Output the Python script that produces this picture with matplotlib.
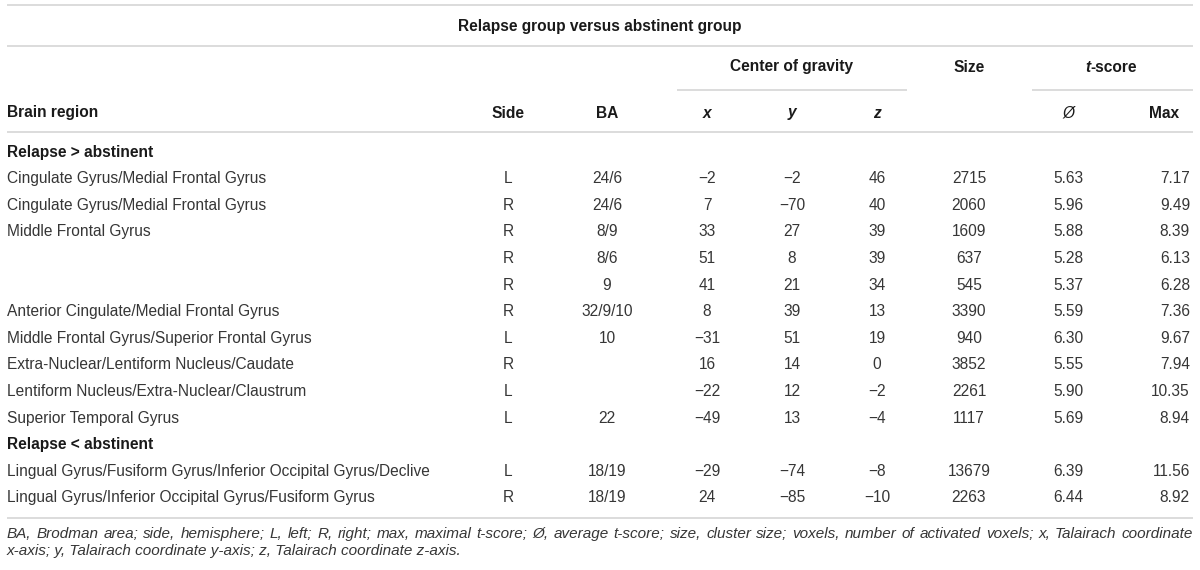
import matplotlib.pyplot as plt

# table content
title = "Relapse group versus abstinent group"
group_labels = ["Relapse > abstinent", "Relapse < abstinent"]
group_sizes = [10, 2]
regions = ["Cingulate Gyrus/Medial Frontal Gyrus",
           "Cingulate Gyrus/Medial Frontal Gyrus",
           "Middle Frontal Gyrus", "", "",
           "Anterior Cingulate/Medial Frontal Gyrus",
           "Middle Frontal Gyrus/Superior Frontal Gyrus",
           "Extra-Nuclear/Lentiform Nucleus/Caudate",
           "Lentiform Nucleus/Extra-Nuclear/Claustrum",
           "Superior Temporal Gyrus",
           "Lingual Gyrus/Fusiform Gyrus/Inferior Occipital Gyrus/Declive",
           "Lingual Gyrus/Inferior Occipital Gyrus/Fusiform Gyrus"]
sides = ["L", "R", "R", "R", "R", "R", "L", "R", "L", "L", "L", "R"]
ba = ["24/6", "24/6", "8/9", "8/6", "9", "32/9/10", "10", "", "", "22", "18/19", "18/19"]
cog_x = [-2, 7, 33, 51, 41, 8, -31, 16, -22, -49, -29, 24]
cog_y = [-2, -70, 27, 8, 21, 39, 51, 14, 12, 13, -74, -85]
cog_z = [46, 40, 39, 39, 34, 13, 19, 0, -2, -4, -8, -10]
sizes = [2715, 2060, 1609, 637, 545, 3390, 940, 3852, 2261, 1117, 13679, 2263]
t_mean = [5.63, 5.96, 5.88, 5.28, 5.37, 5.59, 6.30, 5.55, 5.90, 5.69, 6.39, 6.44]
t_max = [7.17, 9.49, 8.39, 6.13, 6.28, 7.36, 9.67, 7.94, 10.35, 8.94, 11.56, 8.92]
footnote = ("BA, Brodman area; side, hemisphere; L, left; R, right; max, maximal t-score; \u00d8, "
            "average t-score; size, cluster size; voxels, number of activated voxels; x, Talairach coordinate",
            "x-axis; y, Talairach coordinate y-axis; z, Talairach coordinate z-axis.")

W, H = 1200, 570
fig = plt.figure(figsize=(12, 5.7), dpi=100)
ax = fig.add_axes([0, 0, 1, 1])
ax.set_xlim(0, W)
ax.set_ylim(H, 0)
ax.axis('off')

FONT = ['Liberation Sans', 'DejaVu Sans']
TXT = '#363636'
HEAD = '#1a1a1a'
LINE = '#d9d9d9'
fs = 11.2

left, right = 7, 1193
col_x = {'side': 508, 'ba': 607, 'x': 707, 'y': 792, 'z': 877, 'size': 969, 'mean': 1068, 'max': 1190}


def fmt(v):
    return str(v).replace('-', '\u2212')


def hline(y, x0=left, x1=right):
    ax.plot([x0, x1], [y, y], color=LINE, lw=1.3, solid_capstyle='butt')


def txt(x, y, s, ha='center', bold=False, italic=False, size=fs, color=TXT):
    return ax.text(x, y, s, ha=ha, va='center', fontsize=size, family=FONT,
                   fontweight='bold' if bold else 'normal',
                   fontstyle='italic' if italic else 'normal', color=color)


# rules
hline(5)
hline(46)
hline(90, 677, 907)
hline(90, 1032, right)
hline(132)

# headers
txt(600, 26, title, bold=True, color=HEAD)
txt(792, 67, "Center of gravity", bold=True, color=HEAD)
txt(969, 67, "Size", bold=True, color=HEAD)
# "t-score" with italic t, centred as a whole
renderer = fig.canvas.get_renderer()
t1 = txt(0, 67, "t", ha='left', bold=True, italic=True, color=HEAD)
t2 = txt(0, 67, "-score", ha='left', bold=True, color=HEAD)
w1 = t1.get_window_extent(renderer).width
w2 = t2.get_window_extent(renderer).width
x0 = 1111 - (w1 + w2) / 2
t1.set_x(x0)
t2.set_x(x0 + w1)

yh = 113
txt(left, yh, "Brain region", ha='left', bold=True, color=HEAD)
txt(col_x['side'], yh, "Side", bold=True, color=HEAD)
txt(col_x['ba'], yh, "BA", bold=True, color=HEAD)
txt(col_x['x'], yh, "x", bold=True, italic=True, color=HEAD)
txt(col_x['y'], yh, "y", bold=True, italic=True, color=HEAD)
txt(col_x['z'], yh, "z", bold=True, italic=True, color=HEAD)
txt(col_x['mean'], yh, "\u00d8", italic=True, color=HEAD)
txt(1164, yh, "Max", bold=True, color=HEAD)

# body
pitch = 26.6
y = 152
i = 0
for g, n in zip(group_labels, group_sizes):
    txt(left, y, g, ha='left', bold=True, color=HEAD)
    y += pitch
    for _ in range(n):
        txt(left, y, regions[i], ha='left')
        txt(col_x['side'], y, sides[i])
        txt(col_x['ba'], y, ba[i])
        txt(col_x['x'], y, fmt(cog_x[i]))
        txt(col_x['y'], y, fmt(cog_y[i]))
        txt(col_x['z'], y, fmt(cog_z[i]))
        txt(col_x['size'], y, str(sizes[i]))
        txt(col_x['mean'], y, f"{t_mean[i]:.2f}")
        txt(col_x['max'], y, f"{t_max[i]:.2f}", ha='right')
        y += pitch
        i += 1

y_rule = y - pitch + 20
hline(y_rule)

# footnote, first line justified across the full width
fn_fs = 11.0
words = footnote[0].split(' ')
parts = [txt(0, y_rule + 16, w, ha='left', italic=True, size=fn_fs) for w in words]
widths = [p.get_window_extent(renderer).width for p in parts]
gap = (right - left - sum(widths)) / (len(words) - 1)
xc = left
for p, w in zip(parts, widths):
    p.set_x(xc)
    xc += w + gap
txt(left, y_rule + 33, footnote[1], ha='left', italic=True, size=fn_fs)

fig.savefig('out.png', dpi=100)
